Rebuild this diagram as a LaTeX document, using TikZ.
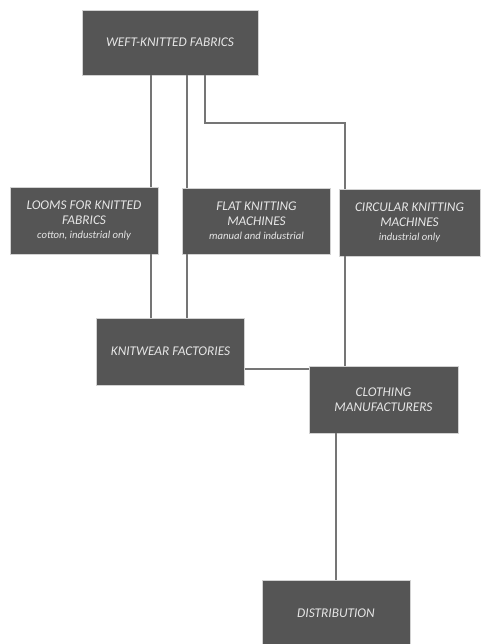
\documentclass[tikz,border=0pt]{standalone}
\usepackage{fontspec}
\setmainfont{Carlito}
\usepackage{xcolor}
\usepackage{tikz}
\definecolor{boxgray}{HTML}{555555}
\definecolor{linegray}{HTML}{757575}
\definecolor{textgray}{HTML}{E6E6E6}
\newcommand{\smalltext}[1]{{\fontsize{8}{10}\selectfont #1}}

\begin{document}
\begin{tikzpicture}[
    x=0.75pt, y=-0.75pt,
    block/.style={draw=gray!35, fill=boxgray, text=textgray, minimum width=111pt, minimum height=50.25pt, align=center, inner sep=2pt, font=\itshape\fontsize{10}{11.3}\selectfont},
    link/.style={draw=linegray, line width=0.9pt}
]
    \useasboundingbox (0,0) rectangle (481,644);

    % Source
    \node[block, minimum width=132pt, minimum height=48.75pt] (weft) at (170,42.5) {WEFT-KNITTED FABRICS};

    % Machines
    \node[block] (looms) at (84,220.5) {LOOMS FOR KNITTED\\FABRICS\\[-0.8pt]\smalltext{cotton, industrial only}};
    \node[block, minimum height=49.5pt] (flat) at (256.5,221) {FLAT KNITTING\\MACHINES\\[-0.8pt]\smalltext{manual and industrial}};
    \node[block, minimum width=105.75pt] (circ) at (409.5,222.5) {CIRCULAR KNITTING\\MACHINES\\[-0.8pt]\smalltext{industrial only}};

    % Makers
    \node[block] (knit) at (170.5,351.5) {KNITWEAR FACTORIES};
    \node[block, minimum width=111.75pt] (cloth) at (383.5,399.5) {CLOTHING\\MANUFACTURERS};

    % Market
    \node[block] (dist) at (336,613.5) {DISTRIBUTION};

    % Columns of the connectors
    \coordinate (colA) at (151,0);
    \coordinate (colB) at (187,0);
    \coordinate (colC) at (205,0);
    \coordinate (colD) at (345,0);
    \coordinate (bend) at (205,123);
    \coordinate (rowK) at (0,369);

    % Connections
    \draw[link] (weft.south -| colA) -- (looms.north -| colA);
    \draw[link] (looms.south -| colA) -- (knit.north -| colA);
    \draw[link] (weft.south -| colB) -- (flat.north -| colB);
    \draw[link] (flat.south -| colB) -- (knit.north -| colB);
    \draw[link] (weft.south -| colC) -- (bend) -| (circ.north -| colD);
    \draw[link] (circ.south -| colD) -- (cloth.north -| colD);
    \draw[link] (knit.east |- rowK) -- (cloth.west |- rowK);
    \draw[link] (cloth.south -| dist.north) -- (dist.north);
\end{tikzpicture}
\end{document}
